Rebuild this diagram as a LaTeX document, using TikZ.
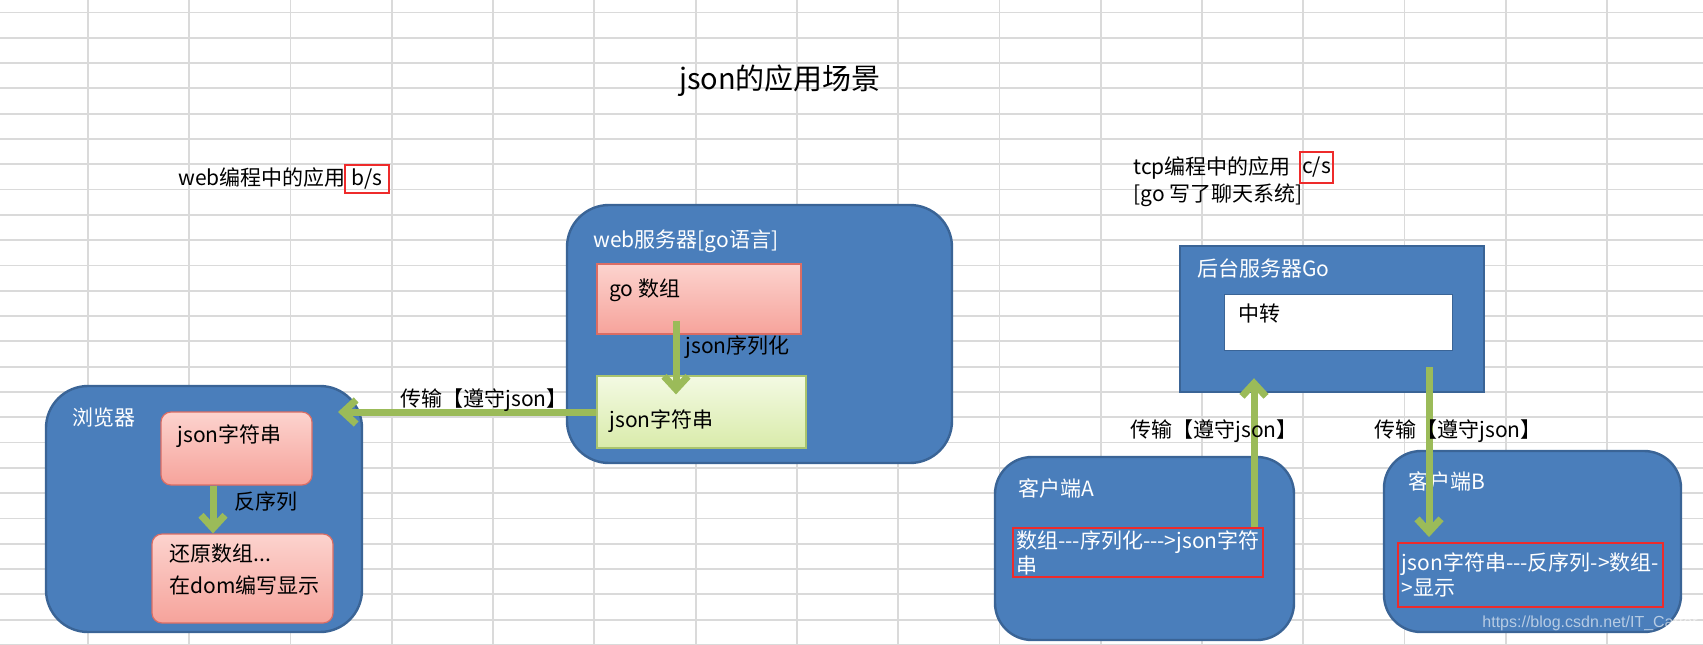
\documentclass[tikz,border=0pt]{standalone}
\usepackage{fontspec}
\setmainfont{Noto Sans CJK SC}[Ligatures=TeXOff]
\newfontfamily\urlfont{Liberation Sans}
\usetikzlibrary{arrows.meta,positioning,calc}
\definecolor{sheetgrid}{HTML}{DADADA}
\definecolor{officeblue}{HTML}{4A7EBB}
\definecolor{officeedge}{HTML}{3A6496}
\definecolor{pinktop}{HTML}{FCD3CE}
\definecolor{pinkbot}{HTML}{F6A39B}
\definecolor{pinkedge}{HTML}{DB6D64}
\definecolor{limetop}{HTML}{F3FAE3}
\definecolor{limebot}{HTML}{D9EBAA}
\definecolor{limeedge}{HTML}{A9C46E}
\definecolor{flowgreen}{HTML}{9BBB59}
\definecolor{markred}{HTML}{EE2B2B}
\tikzset{>/.tip={Straight Barb[length=6.5pt,width=12pt]}}
\tikzset{container/.style={draw=officeedge,line width=1.2pt,fill=officeblue,rounded corners=21pt,inner sep=0pt}}
\tikzset{boxlabel/.style={text=white}}
\tikzset{pinkbox/.style={draw=pinkedge,line width=0.6pt,top color=pinktop,bottom color=pinkbot,inner sep=0pt}}
\tikzset{limebox/.style={draw=limeedge,line width=0.6pt,top color=limetop,bottom color=limebot,inner sep=0pt}}
\tikzset{redmark/.style={draw=markred,line width=1pt,inner xsep=1pt,inner ysep=0pt}}
\tikzset{flow/.style={draw=flowgreen,line width=3.5pt,->}}

\begin{document}
\begin{tikzpicture}[x=0.5pt,y=-0.5pt,inner sep=0pt,font=\fontsize{10.5}{12.5}\selectfont]
        \useasboundingbox (0,0) rectangle (1703,644);
        \foreach \k in {0,...,15}
          \draw[sheetgrid,line width=0.9pt] ({88+101.27*\k},0) -- ({88+101.27*\k},644);
        \foreach \k in {0,...,25}
          \draw[sheetgrid,line width=0.9pt] (0,{12.4+25.3*\k}) -- (1703,{12.4+25.3*\k});

        \node[font=\fontsize{14.5}{17}\selectfont](title) at (780,81) {json的应用场景};
        \node(bslbl)[anchor=east] at (346,178) {web编程中的应用};
        \node(bs)[redmark,minimum width=22pt,minimum height=14pt] at (367,179) {b/s};
        \node(cslbl)[anchor=west] at (1133,168) {tcp编程中的应用};
        \node(cs)[redmark,minimum width=16.5pt,minimum height=15.5pt] at (1316.5,167.5) {c/s};
        \node(cschat)[anchor=west] at (1133,195) {[go 写了聊天系统]};

        \node(websrv)[container,minimum width=192.5pt,minimum height=129pt] at (759.5,334) {};
        \node(websrvlbl)[boxlabel,anchor=west] at (593,241) {web服务器[go语言]};
        \node(goarr)[pinkbox,minimum width=102pt,minimum height=35pt] at (699,299) {};
        \node(goarrlbl)[anchor=west] at (609,290) {go 数组};
        \node(webjson)[limebox,minimum width=104.5pt,minimum height=36pt] at (701.5,412) {};
        \node(webjsonlbl)[anchor=west] at (609,421) {json字符串};
        \draw[flow] ($(goarr.south)+(-23,-14)$) -- ($(webjson.north)+(-25.5,19)$);
        \node(serlbl)[anchor=west] at (685,347) {json序列化};

        \node(browser)[container,minimum width=158pt,minimum height=123pt] at (204,509) {};
        \node(browserlbl)[boxlabel,anchor=west] at (72,418) {浏览器};
        \node(bjson)[pinkbox,rounded corners=5pt,minimum width=75.5pt,minimum height=36.5pt] at (236.5,448.5) {};
        \node(bjsonlbl)[anchor=west] at (177,436) {json字符串};
        \node(brestore)[pinkbox,rounded corners=5pt,minimum width=90.5pt,minimum height=44.5pt] at (242.5,578.5) {};
        \node(brestorelbl)[anchor=west,align=left,font=\fontsize{10.5}{16}\selectfont] at (169,569) {还原数组...\\在dom编写显示};
        \draw[flow] ($(bjson.south)+(-23.5,0)$) -- ($(brestore.north)+(-29.5,0)$);
        \node(deserlbl)[anchor=west] at (234,502) {反序列};

        \coordinate(btip) at (338,412);
        \draw[flow] (webjson.west) -- (btip);
        \node(xferweb) at (484,400) {传输【遵守json】};

        \node(backend)[container,rounded corners=0pt,minimum width=152pt,minimum height=73pt] at (1332,319) {};
        \node(backendlbl)[boxlabel,anchor=west] at (1197,268) {后台服务器Go};
        \node(relay)[draw=officeedge,fill=white,minimum width=114pt,minimum height=28pt] at (1338,322) {};
        \node(relaylbl)[anchor=west] at (1238,314) {中转};

        \node(clienta)[container,rounded corners=18.5pt,minimum width=149.5pt,minimum height=91.5pt] at (1144.5,548.5) {};
        \node(clientalbl)[boxlabel,anchor=west] at (1018,488) {客户端A};
        \node(atext)[redmark,text=white,align=left,minimum width=125pt,minimum height=24.5pt] at (1138,552.5) {数组---序列化--->json字符\\串};

        \node(clientb)[container,rounded corners=18.5pt,minimum width=148.5pt,minimum height=90.5pt] at (1532.5,541.5) {};
        \node(clientblbl)[boxlabel,anchor=west] at (1408,481) {客户端B};
        \node(btext)[redmark,text=white,align=left,minimum width=132.5pt,minimum height=32pt] at (1530.5,575) {json字符串---反序列->数组-\\>显示};

        \draw[flow] ($(atext.north)+(116,0)$) -- ($(backend.south)+(-78,-15)$);
        \draw[flow] ($(backend.south)+(97,-26)$) -- ($(btext.north)+(-101.5,-5)$);
        \node(xfera) at (1214,431) {传输【遵守json】};
        \node(xferb) at (1458,431) {传输【遵守json】};

        \node(wmark)[anchor=west,text=white,opacity=0.6,font=\urlfont\fontsize{8}{10}\selectfont] at (1482,623) {https://blog.csdn.net/IT\_Carter};
      \end{tikzpicture}
\end{document}
